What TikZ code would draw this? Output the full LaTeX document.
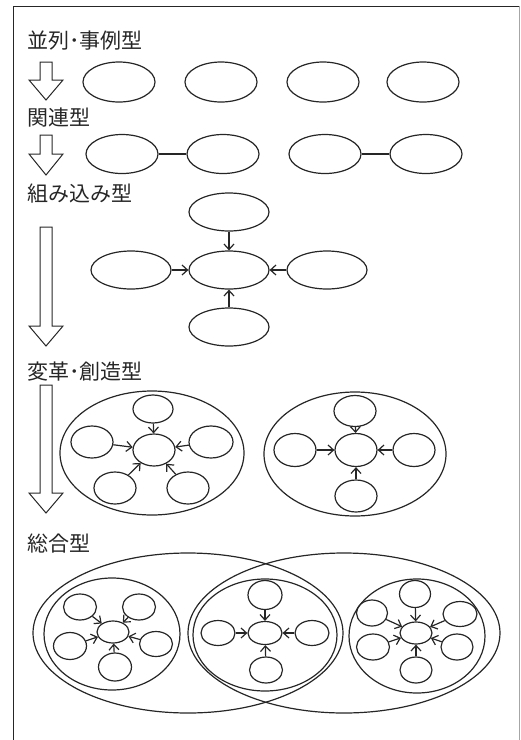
\documentclass[tikz,border=0pt]{standalone}
\usepackage{fontspec}
\newfontfamily\jp{Noto Sans CJK JP}
\usetikzlibrary{shapes.geometric,arrows.meta}
\definecolor{lc}{gray}{0.15}
\begin{document}
\begin{tikzpicture}[x=1pt,y=-1pt,
  el/.style 2 args={ellipse, draw=lc, line width=1.2pt, inner sep=0pt, minimum width=#1, minimum height=#2},
  lab/.style={anchor=west, inner sep=0pt, text=lc, font=\jp\fontsize{21}{25}\selectfont},
  con/.style={draw=lc, line width=1.2pt},
  arr/.style={draw=lc, line width=1.2pt, -{Straight Barb[length=5.5pt,width=10pt]}},
  hol/.style={draw=lc, line width=1pt, line join=miter}]
\useasboundingbox (0,0) rectangle (521,740);
% frame
\draw[lc, line width=0.9pt] (13,740) -- (13,6) -- (519,6);
\draw[gray!70, line width=0.9pt] (519,6) -- (519,740);

% labels
\node[lab] (t1) at (27,41) {並列･事例型};
\node[lab] (t2) at (27,118) {関連型};
\node[lab] (t3) at (27,194) {組み込み型};
\node[lab] (t4) at (27,372) {変革･創造型};
\node[lab] (t5) at (27,544) {総合型};

% hollow arrows
\draw[hol] (40,62) -- (40,80) -- (29,80) -- (46,100) -- (63,80) -- (52,80) -- (52,62) -- cycle;
\draw[hol] (40,135) -- (40,154) -- (29,154) -- (46,175) -- (63,154) -- (52,154) -- (52,135) -- cycle;
\draw[hol] (40,227) -- (40,326) -- (29,326) -- (46,346) -- (63,326) -- (52,326) -- (52,227) -- cycle;
\draw[hol] (40,385) -- (40,493) -- (29,493) -- (46,513) -- (63,493) -- (52,493) -- (52,385) -- cycle;

% row 1
\node[el={72pt}{40pt}] (a1) at (119,82) {};
\node[el={72pt}{40pt}] (a2) at (221,82) {};
\node[el={72pt}{40pt}] (a3) at (323,82) {};
\node[el={72pt}{40pt}] (a4) at (423,82) {};

% row 2
\node[el={72pt}{39pt}] (b1) at (122,154) {};
\node[el={72pt}{39pt}] (b2) at (223,154) {};
\node[el={72pt}{39pt}] (b3) at (325,154) {};
\node[el={72pt}{39pt}] (b4) at (426,154) {};
\draw[con] (b1) -- (b2);
\draw[con] (b3) -- (b4);

% 組み込み型
\node[el={80pt}{38pt}] (c0) at (229,270) {};
\node[el={80pt}{38pt}] (ct) at (229,212) {};
\node[el={80pt}{38pt}] (cl) at (131,270) {};
\node[el={80pt}{38pt}] (cr) at (327,270) {};
\node[el={80pt}{38pt}] (cb) at (229,327) {};
\foreach \n in {ct,cl,cr,cb} \draw[arr] (\n) -- (c0);

% 変革・創造型 left
\node[el={184pt}{124pt}] (dL) at (152,453) {};
\node[el={42pt}{32pt}] (d0) at (154,450) {};
\node[el={40pt}{28pt}] (dt) at (153,409) {};
\node[el={42pt}{32pt}] (dul) at (92,442) {};
\node[el={44pt}{32pt}] (dur) at (211,442) {};
\node[el={42pt}{32pt}] (dll) at (115,488) {};
\node[el={42pt}{32pt}] (dlr) at (188,488) {};
\foreach \n in {dt,dul,dur,dll,dlr} \draw[arr] (\n) -- (d0);

% 変革・創造型 right
\node[el={182pt}{124pt}] (eR) at (355,454) {};
\node[el={42pt}{33pt}] (e0) at (356,450) {};
\node[el={42pt}{31pt}] (et) at (355,411) {};
\node[el={42pt}{33pt}] (el) at (295,450) {};
\node[el={42pt}{33pt}] (er) at (414,450) {};
\node[el={42pt}{32pt}] (eb) at (356,496) {};
\foreach \n in {et,el,er,eb} \draw[arr] (\n) -- (e0);

% 総合型
\node[el={310pt}{160pt}] (gL) at (188,633) {};
\node[el={312pt}{160pt}] (gR) at (344,633) {};
\node[el={136pt}{112pt}] (f1) at (112,634) {};
\node[el={144pt}{112pt}] (f2) at (265,635) {};
\node[el={136pt}{114pt}] (f3) at (417,636) {};

\node[el={32pt}{22pt}] (h0) at (113,632) {};
\node[el={33pt}{26pt}] (h1) at (80,607) {};
\node[el={33pt}{26pt}] (h2) at (139,607) {};
\node[el={33pt}{27pt}] (h3) at (70,646) {};
\node[el={33pt}{25pt}] (h4) at (156,644) {};
\node[el={33pt}{28pt}] (h5) at (115,667) {};
\foreach \n in {h1,h2,h3,h4,h5} \draw[arr] (\n) -- (h0);

\node[el={34pt}{23pt}] (i0) at (265,633) {};
\node[el={34pt}{29pt}] (i1) at (265,595) {};
\node[el={34pt}{25pt}] (i2) at (218,633) {};
\node[el={34pt}{25pt}] (i3) at (312,633) {};
\node[el={33pt}{26pt}] (i4) at (266,670) {};
\foreach \n in {i1,i2,i3,i4} \draw[arr] (\n) -- (i0);

\node[el={32pt}{22pt}] (j0) at (416,633) {};
\node[el={31pt}{27pt}] (j1) at (415,594) {};
\node[el={31pt}{26pt}] (j2) at (372,613) {};
\node[el={34pt}{25pt}] (j3) at (460,614) {};
\node[el={33pt}{26pt}] (j4) at (373,647) {};
\node[el={32pt}{26pt}] (j5) at (457,647) {};
\node[el={32pt}{26pt}] (j6) at (416,670) {};
\foreach \n in {j1,j2,j3,j4,j5,j6} \draw[arr] (\n) -- (j0);
\end{tikzpicture}
\end{document}
